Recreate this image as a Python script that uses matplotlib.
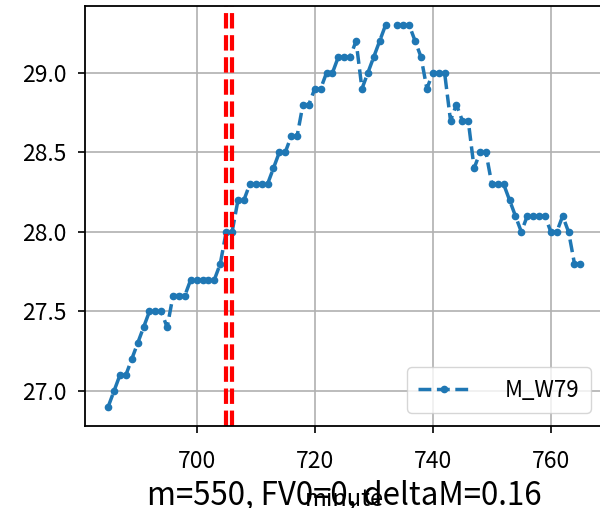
import numpy as np
import matplotlib
matplotlib.use("Agg")
import matplotlib.pyplot as plt

plt.rcParams['font.family'] = ['Noto Sans CJK SC', 'DejaVu Sans']

minutes = list(range(685, 766))
m_w79 = [26.9, 27.0, 27.1, 27.1, 27.2, 27.3, 27.4, 27.5, 27.5, 27.5,
         27.4, 27.6, 27.6, 27.6, 27.7, 27.7, 27.7, 27.7, 27.7, 27.8,
         28.0, 28.0, 28.2, 28.2, 28.3, 28.3, 28.3, 28.3, 28.4, 28.5,
         28.5, 28.6, 28.6, 28.8, 28.8, 28.9, 28.9, 29.0, 29.0, 29.1,
         29.1, 29.1, 29.2, 28.9, 29.0, 29.1, 29.2, 29.3, np.nan, 29.3,
         29.3, 29.3, 29.2, 29.1, 28.9, 29.0, 29.0, 29.0, 28.7, 28.8,
         28.7, 28.7, 28.4, 28.5, 28.5, 28.3, 28.3, 28.3, 28.2, 28.1,
         28.0, 28.1, 28.1, 28.1, 28.1, 28.0, 28.0, 28.1, 28.0, 27.8,
         27.8]
vlines = [705, 706]
series_label = "M_W79"
title_text = "m=550, FV0=0, deltaM=0.16"
xlabel_text = "minute"

fig = plt.figure(figsize=(6.0, 5.08), dpi=100)
ax = fig.add_axes([84.5 / 600, (508 - 426) / 508, (604 - 84.5) / 600, (426 - 6) / 508])

ax.plot(minutes, m_w79, linestyle='--', marker='.', color='#1f77b4',
        linewidth=2.5, markersize=9, label=series_label)
for v in vlines:
    ax.axvline(v, color='red', linestyle='--', linewidth=3)

ax.grid(True, color='#b0b0b0', linewidth=1.2)
ax.set_axisbelow(True)
ax.set_xticks([700, 720, 740, 760])
ax.set_yticks([27.0, 27.5, 28.0, 28.5, 29.0])
ax.set_yticklabels(["27.0", "27.5", "28.0", "28.5", "29.0"])
ax.tick_params(labelsize=16.5, length=5, width=1.2)
ax.tick_params(axis='x', pad=12)
ax.tick_params(axis='y', pad=8)
for s in ax.spines.values():
    s.set_linewidth(1.3)

ax.set_xlabel(xlabel_text, fontsize=17, va='baseline')
ax.xaxis.set_label_coords(0.5, -(506 - 426) / 420)
leg = ax.legend(loc='lower right', fontsize=16, handlelength=2.35,
                handletextpad=1.55, borderaxespad=0.6, borderpad=0.5)

fig.text(344 / 600, 3.5 / 508, title_text, fontsize=22.5, ha='center', va='baseline')

fig.savefig("out.png", dpi=100)
